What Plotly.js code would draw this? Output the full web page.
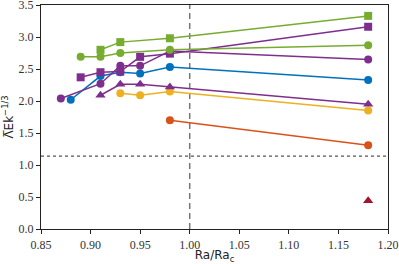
<!DOCTYPE html>
<html><head><meta charset="utf-8">
<script src="https://cdn.plot.ly/plotly-3.0.1.min.js"></script>
<style>html,body{margin:0;padding:0;background:#fff}#c{width:399px;height:264px}</style>
</head><body><div id="c"></div>
<script>
const greenSqX = [0.91, 0.93, 0.98, 1.18];
const greenSqY = [2.80, 2.92, 2.98, 3.33];
const greenCiX = [0.89, 0.91, 0.93, 0.98, 1.18];
const greenCiY = [2.69, 2.69, 2.75, 2.80, 2.87];
const purpleSqX = [0.89, 0.91, 0.93, 0.95, 0.98, 1.18];
const purpleSqY = [2.37, 2.45, 2.46, 2.69, 2.74, 3.16];
const purpleCiX = [0.87, 0.91, 0.93, 0.95, 0.98, 1.18];
const purpleCiY = [2.04, 2.27, 2.55, 2.55, 2.78, 2.65];
const blueCiX = [0.88, 0.91, 0.93, 0.95, 0.98, 1.18];
const blueCiY = [2.02, 2.39, 2.45, 2.43, 2.53, 2.33];
const purpleTrX = [0.91, 0.93, 0.95, 0.98, 1.18];
const purpleTrY = [2.09, 2.26, 2.26, 2.22, 1.95];
const yellowCiX = [0.93, 0.95, 0.98, 1.18];
const yellowCiY = [2.12, 2.09, 2.15, 1.85];
const orangeCiX = [0.98, 1.18];
const orangeCiY = [1.70, 1.31];
const redTrX = [1.18];
const redTrY = [0.44];
const xTicks = [0.85, 0.90, 0.95, 1.00, 1.05, 1.10, 1.15, 1.20];
const yTicks = [0.0, 0.5, 1.0, 1.5, 2.0, 2.5, 3.0, 3.5];
const critX = 1.0;
const refY = 1.14;

function tr(x, y, color, symbol, mode) {
  return {x: x, y: y, type: 'scatter', mode: mode || 'lines+markers',
    line: {color: color, width: 1.5},
    marker: {color: color, symbol: symbol, size: symbol === 'triangle-up' ? 9 : 8},
    showlegend: false, cliponaxis: false};
}
const C = {green: '#77AC30', purple: '#7E2F8E', blue: '#0072BD', yellow: '#EDB120', orange: '#D95319', red: '#A2142F'};
const data = [
  tr(orangeCiX, orangeCiY, C.orange, 'circle'),
  tr(yellowCiX, yellowCiY, C.yellow, 'circle'),
  tr(purpleTrX, purpleTrY, C.purple, 'triangle-up'),
  tr(blueCiX, blueCiY, C.blue, 'circle'),
  tr(purpleCiX, purpleCiY, C.purple, 'circle'),
  tr(purpleSqX, purpleSqY, C.purple, 'square'),
  tr(greenCiX, greenCiY, C.green, 'circle'),
  tr(greenSqX, greenSqY, C.green, 'square'),
  tr(redTrX, redTrY, C.red, 'triangle-up', 'markers')
];
const tickFont = {family: "'Liberation Serif', 'DejaVu Serif', serif", size: 12, color: '#333'};
const layout = {
  width: 399, height: 264,
  margin: {l: 41, r: 11, t: 5, b: 35},
  paper_bgcolor: '#fff', plot_bgcolor: '#fff',
  xaxis: {range: [0.85, 1.20], tickvals: xTicks, ticktext: xTicks.map(v => v.toFixed(2)),
    ticks: 'outside', ticklen: 4, tickwidth: 1, tickcolor: '#222', ticklabeloverflow: 'allow',
    showline: true, linecolor: '#222', linewidth: 1.2, mirror: true, showgrid: false, zeroline: false,
    tickfont: tickFont,
    title: {text: 'Ra/Ra<sub>c</sub>', font: {family: 'DejaVu Sans, sans-serif', size: 12, color: '#222'}, standoff: 4}},
  yaxis: {range: [0, 3.5], tickvals: yTicks, ticktext: yTicks.map(v => v.toFixed(1)),
    ticks: 'outside', ticklen: 4, tickwidth: 1, tickcolor: '#222', ticklabeloverflow: 'allow',
    showline: true, linecolor: '#222', linewidth: 1.2, mirror: true, showgrid: false, zeroline: false,
    tickfont: tickFont,
    title: {text: 'Λ\u0305Ek<sup>−1/3</sup>', font: {family: 'DejaVu Sans, sans-serif', size: 12, color: '#222'}, standoff: 2}},
  shapes: [
    {type: 'line', xref: 'x', yref: 'paper', x0: critX, x1: critX, y0: 0, y1: 1,
      line: {color: '#777', width: 1.5, dash: '6px,4px'}, layer: 'below'},
    {type: 'line', xref: 'paper', yref: 'y', x0: 0, x1: 1, y0: refY, y1: refY,
      line: {color: '#555', width: 1.2, dash: 'dot'}, layer: 'below'}
  ]
};
Plotly.newPlot('c', data, layout, {staticPlot: true, displayModeBar: false});
</script></body></html>
